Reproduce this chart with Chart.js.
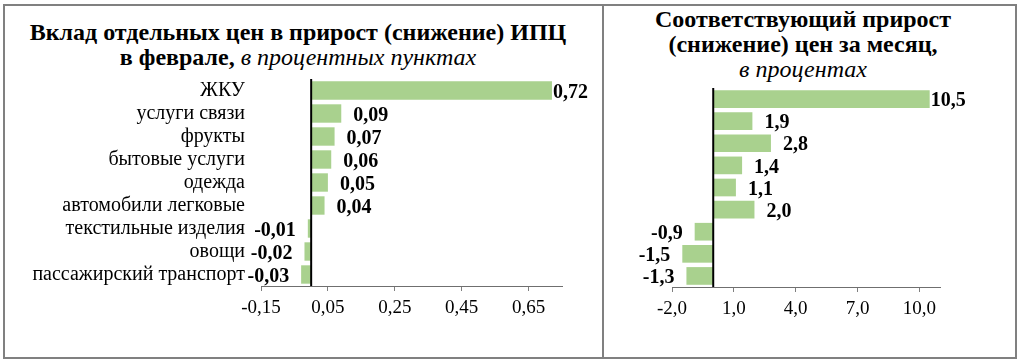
<!DOCTYPE html>
<html>
<head>
<meta charset="utf-8">
<script src="https://cdn.jsdelivr.net/npm/chart.js"></script>
<style>
  body { margin: 0; background: #fff; font-family: "Liberation Serif", "Times New Roman", serif; color: #000; }
  #page { position: relative; width: 1024px; height: 363px; overflow: hidden; background: #fff; }
  .frame { position: absolute; left: 3px; top: 4px; width: 1010px; height: 351px; border: 2px solid #808080; }
  .divider { position: absolute; left: 602px; top: 4px; width: 2px; height: 355px; background: #808080; }
  .title { position: absolute; text-align: center; font-weight: bold; line-height: 25px; white-space: nowrap; }
  .title i { font-weight: normal; }
  .box { position: absolute; }
</style>
</head>
<body>
<div id="page">
  <div class="frame"></div>
  <div class="divider"></div>
  <div class="title" style="left:5px; top:20px; width:586px; font-size:24px;">
    Вклад отдельных цен в прирост (снижение) ИПЦ<br>в феврале, <i>в процентных пунктах</i>
  </div>
  <div class="title" style="left:605px; top:7px; width:396px; font-size:24px;">
    Соответствующий прирост<br>(снижение) цен за месяц,<br><i>в процентах</i>
  </div>
  <div class="box" style="left:5px; top:70px; width:596px; height:285px;"><canvas id="left"></canvas></div>
  <div class="box" style="left:605px; top:82px; width:410px; height:273px;"><canvas id="right"></canvas></div>
</div>
<script>
// data
const categories = ['ЖКУ', 'услуги связи', 'фрукты', 'бытовые услуги', 'одежда',
  'автомобили легковые', 'текстильные изделия', 'овощи', 'пассажирский транспорт'];
const contribution = [0.72, 0.09, 0.07, 0.06, 0.05, 0.04, -0.01, -0.02, -0.03];
const monthGrowth = [10.5, 1.9, 2.8, 1.4, 1.1, 2.0, -0.9, -1.5, -1.3];
const leftTicks = [-0.15, 0.05, 0.25, 0.45, 0.65];
const rightTicks = [-2, 1, 4, 7, 10];

const FONT = '"Liberation Serif", "Times New Roman", serif';
const barColor = '#A9D18E';

// zero line + value labels next to the bars
const valueLabels = {
  id: 'valueLabels',
  afterDatasetsDraw(chart, args, opts) {
    const ctx = chart.ctx, area = chart.chartArea;
    const x0 = chart.scales.x.getPixelForValue(0);
    ctx.save();
    ctx.strokeStyle = '#000';
    ctx.lineWidth = 2;
    ctx.beginPath();
    ctx.moveTo(x0, area.top);
    ctx.lineTo(x0, area.bottom);
    ctx.stroke();

    ctx.font = 'bold 20px ' + FONT;
    ctx.fillStyle = '#000';
    ctx.textBaseline = 'middle';
    const vals = chart.data.datasets[0].data;
    const maxV = Math.max(...vals);
    chart.getDatasetMeta(0).data.forEach((bar, i) => {
      const v = vals[i];
      const txt = opts.fmt(v);
      if (v >= 0) {
        ctx.textAlign = 'left';
        ctx.fillText(txt, v === maxV ? bar.x + 1 : bar.x + 12, bar.y + 2);
      } else {
        ctx.textAlign = 'right';
        ctx.fillText(txt, bar.x - 12, bar.y + 2);
      }
    });
    ctx.restore();
  }
};

function makeChart(id, values, ticks, min, max, digits, pad, showCats, axisH) {
  const fmt = v => v.toFixed(digits).replace('.', ',');
  return new Chart(document.getElementById(id), {
    type: 'bar',
    data: {
      labels: categories,
      datasets: [{
        data: values,
        backgroundColor: barColor,
        borderWidth: 0,
        barPercentage: 0.8,
        categoryPercentage: 1
      }]
    },
    options: {
      indexAxis: 'y',
      responsive: true,
      maintainAspectRatio: false,
      animation: false,
      layout: { padding: pad },
      plugins: {
        legend: { display: false },
        tooltip: { enabled: false },
        valueLabels: { fmt: fmt }
      },
      scales: {
        x: {
          min: min,
          max: max,
          afterBuildTicks: axis => { axis.ticks = ticks.map(v => ({ value: v })); },
          afterFit: axis => {
            axis.height = axisH;
            axis.paddingLeft = 0;
            axis.paddingRight = 0;
          },
          grid: { drawOnChartArea: false, drawTicks: true, tickLength: 5, color: '#7f7f7f' },
          border: { display: true, color: '#6f6f6f', width: 1 },
          ticks: {
            padding: 6,
            color: '#000',
            font: { family: FONT, size: 19 },
            callback: v => fmt(v),
            maxRotation: 0,
            autoSkip: false
          }
        },
        y: {
          display: showCats,
          afterFit: axis => {
            if (showCats) axis.width = 256;
            axis.paddingTop = 0;
            axis.paddingBottom = 0;
          },
          grid: { display: false, drawTicks: false },
          border: { display: false },
          ticks: {
            padding: 16,
            color: '#000',
            font: { family: FONT, size: 20 },
            autoSkip: false
          }
        }
      }
    },
    plugins: [valueLabels]
  });
}

makeChart('left', contribution, leftTicks, -0.15, 0.75, 2,
  { top: 9, right: 39, bottom: 0, left: 0 }, true, 69);
makeChart('right', monthGrowth, rightTicks, -2, 11, 1,
  { top: 6, right: 75, bottom: 0, left: 67 }, false, 68);
</script>
</body>
</html>
